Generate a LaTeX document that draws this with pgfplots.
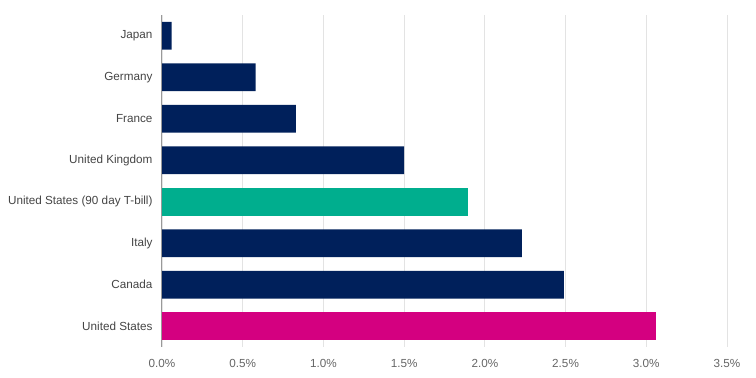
\documentclass[border=0pt]{standalone}
\usepackage{pgfplots}
\pgfplotsset{compat=1.18}
\usepackage{fontspec}
\setmainfont{Liberation Sans}
\definecolor{navy}{HTML}{00205B}
\definecolor{teal}{HTML}{00AE8E}
\definecolor{magenta}{HTML}{D40080}
\definecolor{gridc}{HTML}{E3E3E3}
\definecolor{labc}{HTML}{555555}
\begin{document}
\begin{tikzpicture}
\useasboundingbox (-162bp,-31bp) rectangle (594bp,347bp);
\begin{axis}[
  at={(0,0)}, anchor=south west,
  scale only axis, width=565bp, height=332bp,
  xmin=0, xmax=3.5, ymin=-0.5, ymax=7.5,
  y dir=reverse,
  xtick={0,0.5,...,3.5},
  ytick={0,...,7},
  yticklabels={Japan,Germany,France,United Kingdom,United States (90 day T-bill),Italy,Canada,United States},
  xticklabel={\pgfmathprintnumber[fixed,fixed zerofill,precision=1]{\tick}\%},
  /pgf/number format/assume math mode=true,
  xmajorgrids, major grid style={draw=gridc, line width=0.8pt},
  major tick length=0pt,
  axis line style={draw=none},
  x tick label style={font=\fontsize{11.7bp}{13bp}\selectfont, text=labc!90, yshift=-9bp},
  y tick label style={font=\fontsize{11.7bp}{13bp}\selectfont, text=labc!80!black, xshift=-6bp},
  clip=false,
]
\addplot[xbar, bar width=27.7bp, bar shift=0pt, fill=navy, draw=none]
  coordinates {(0.06,0) (0.58,1) (0.83,2) (1.50,3) (2.23,5) (2.49,6)};
\addplot[xbar, bar width=27.7bp, bar shift=0pt, fill=teal, draw=none]
  coordinates {(1.895,4)};
\addplot[xbar, bar width=27.7bp, bar shift=0pt, fill=magenta, draw=none]
  coordinates {(3.06,7)};
\draw[draw=gray!80, line width=1pt] (axis cs:0,-0.5) -- (axis cs:0,7.5);
\end{axis}
\end{tikzpicture}
\end{document}
